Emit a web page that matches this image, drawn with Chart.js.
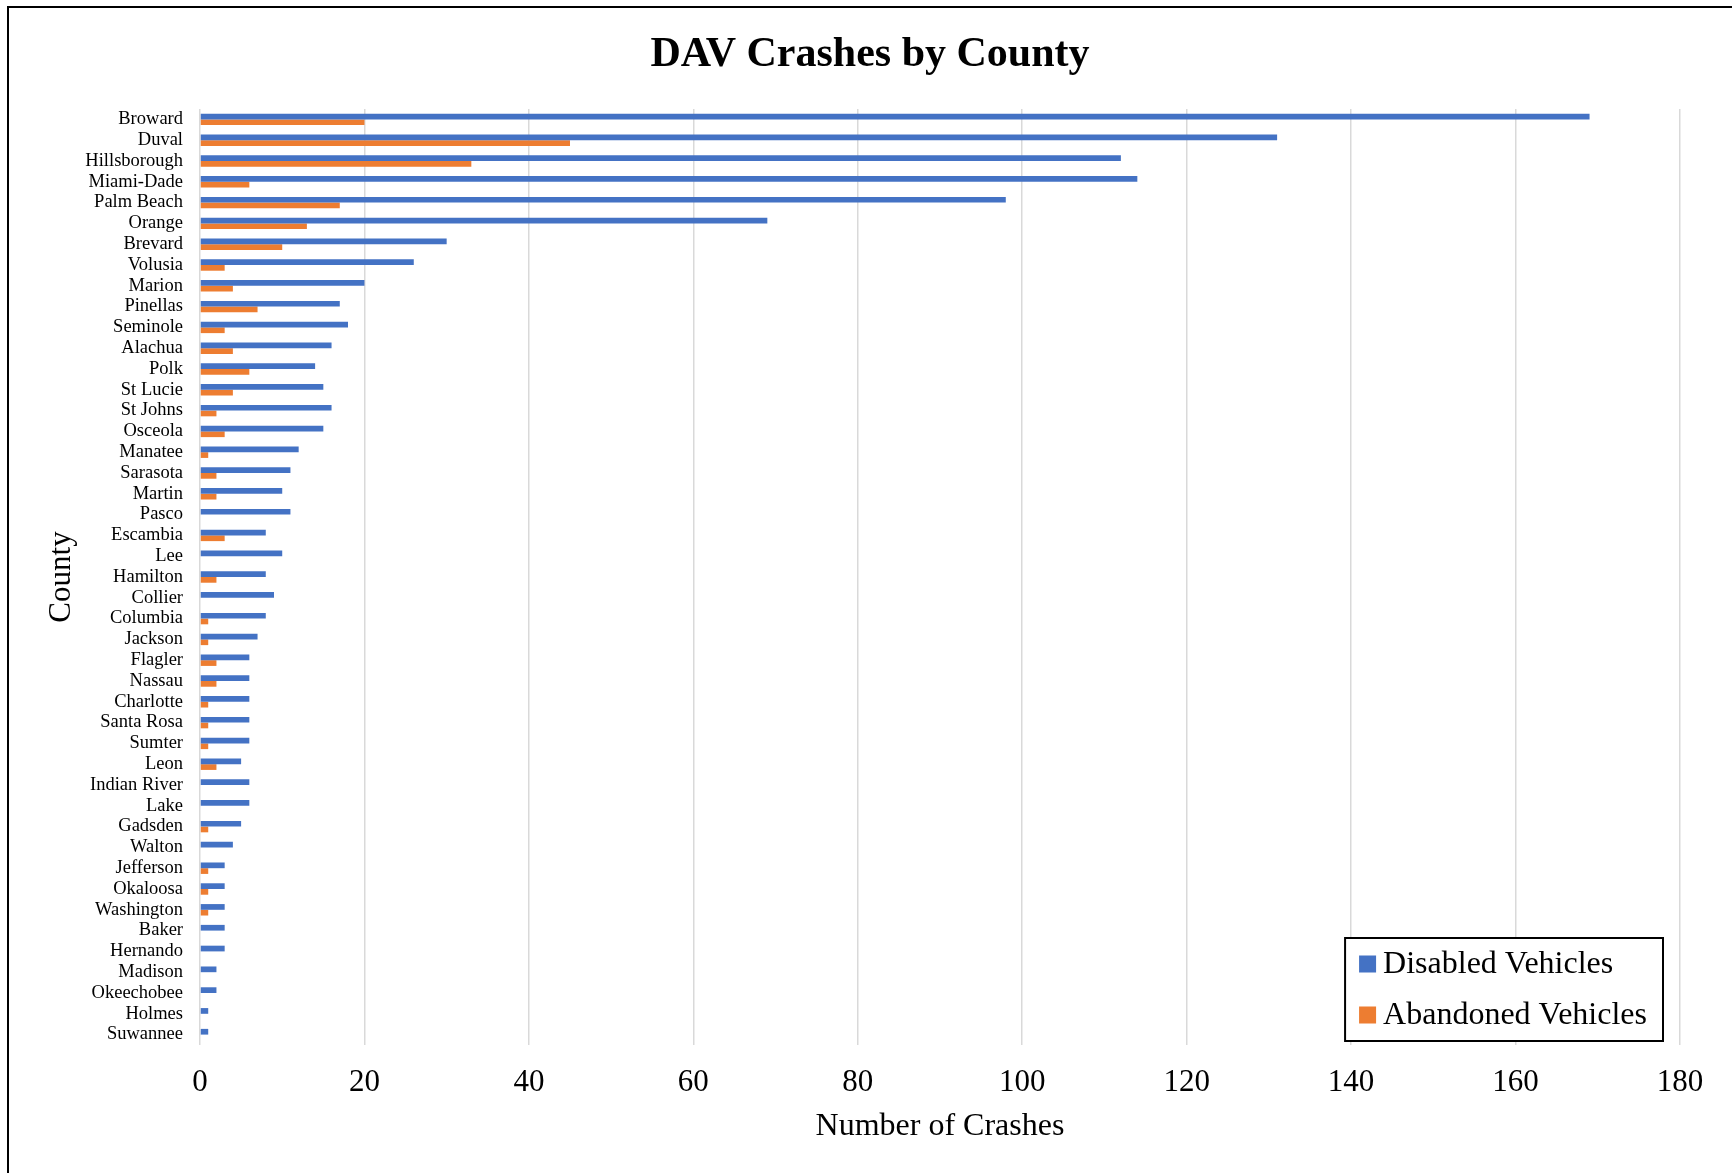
<!DOCTYPE html>
<html>
<head>
<meta charset="utf-8">
<title>DAV Crashes by County</title>
<script src="https://cdn.jsdelivr.net/npm/chart.js@4/dist/chart.umd.min.js"></script>
<style>
  html, body { margin: 0; padding: 0; background: #fff; overflow: hidden; }
  #marco {
    position: absolute; left: 7px; top: 6px;
    width: 2000px; height: 2000px;
    border-left: 2px solid #000; border-top: 2px solid #000;
  }
  #grafico { position: absolute; left: 0; top: 0; }
</style>
</head>
<body>
<div id="marco"></div>
<canvas id="grafico" width="1732" height="1173"></canvas>
<script>
// Condados (de mayor a menor numero de choques)
const condados = ['Broward', 'Duval', 'Hillsborough', 'Miami-Dade', 'Palm Beach', 'Orange', 'Brevard',
    'Volusia', 'Marion', 'Pinellas', 'Seminole', 'Alachua', 'Polk', 'St Lucie', 'St Johns', 'Osceola',
    'Manatee', 'Sarasota', 'Martin', 'Pasco', 'Escambia', 'Lee', 'Hamilton', 'Collier', 'Columbia',
    'Jackson', 'Flagler', 'Nassau', 'Charlotte', 'Santa Rosa', 'Sumter', 'Leon', 'Indian River', 'Lake',
    'Gadsden', 'Walton', 'Jefferson', 'Okaloosa', 'Washington', 'Baker', 'Hernando', 'Madison',
    'Okeechobee', 'Holmes', 'Suwannee'];

const disabledVehicles = [169, 131, 112, 114, 98, 69, 30, 26, 20, 17, 18, 16, 14, 15, 16, 15,
    12, 11, 10, 11, 8, 10, 8, 9, 8, 7, 6, 6, 6, 6, 6, 5, 6, 6, 5, 4, 3, 3, 3, 3, 3, 2, 2, 1, 1];

const abandonedVehicles = [20, 45, 33, 6, 17, 13, 10, 3, 4, 7, 3, 4, 6, 4, 2, 3,
    1, 2, 2, 0, 3, 0, 2, 0, 1, 1, 2, 2, 1, 1, 1, 2, 0, 0, 1, 0, 1, 1, 1, 0, 0, 0, 0, 0, 0];

const ticksX = [0, 20, 40, 60, 80, 100, 120, 140, 160, 180];

const FUENTE = "'Liberation Serif', 'Times New Roman', serif";

// Titulo centrado sobre el marco
const tituloPlugin = {
    id: 'tituloPlugin',
    afterDraw(chart) {
        const ctx = chart.ctx;
        ctx.save();
        ctx.font = "bold 42px " + FUENTE;
        ctx.fillStyle = '#000';
        ctx.textAlign = 'center';
        ctx.textBaseline = 'middle';
        ctx.fillText('DAV Crashes by County', 870, 55);
        ctx.restore();
    }
};

// Leyenda con recuadro dentro del area del grafico (abajo a la derecha)
const leyendaPlugin = {
    id: 'leyendaPlugin',
    afterDraw(chart) {
        const ctx = chart.ctx;
        const area = chart.chartArea;
        const sets = chart.data.datasets;
        ctx.save();
        ctx.font = "32px " + FUENTE;
        let anchoTexto = 0;
        sets.forEach(ds => { anchoTexto = Math.max(anchoTexto, ctx.measureText(ds.label).width); });

        const ancho = 14 + 17 + 7 + anchoTexto + 16;
        const alto = 103;
        const x = area.right - 17 - ancho;
        const y = area.bottom - 4 - alto;

        ctx.fillStyle = '#fff';
        ctx.fillRect(x, y, ancho, alto);
        ctx.strokeStyle = '#000';
        ctx.lineWidth = 2;
        ctx.strokeRect(x, y, ancho, alto);

        ctx.textBaseline = 'middle';
        ctx.textAlign = 'left';
        sets.forEach((ds, i) => {
            const cy = y + 26 + i * 51;
            ctx.fillStyle = ds.backgroundColor;
            ctx.fillRect(x + 14, cy - 8.5, 17, 17);
            ctx.fillStyle = '#000';
            ctx.fillText(ds.label, x + 14 + 17 + 7, cy + 1);
        });
        ctx.restore();
    }
};

new Chart(document.getElementById('grafico'), {
    type: 'bar',
    data: {
        labels: condados,
        datasets: [
            {
                label: 'Disabled Vehicles',
                data: disabledVehicles,
                backgroundColor: '#4472C4',
                categoryPercentage: 0.55,
                barPercentage: 1.0
            },
            {
                label: 'Abandoned Vehicles',
                data: abandonedVehicles,
                backgroundColor: '#ED7D31',
                categoryPercentage: 0.55,
                barPercentage: 1.0
            }
        ]
    },
    options: {
        indexAxis: 'y',
        responsive: false,
        animation: false,
        devicePixelRatio: 1,
        layout: { padding: { top: 109, right: 52, left: 0, bottom: 0 } },
        plugins: {
            legend: { display: false },
            title: { display: false },
            tooltip: { enabled: false }
        },
        scales: {
            x: {
                min: ticksX[0],
                max: ticksX[ticksX.length - 1],
                afterBuildTicks: (scale) => { scale.ticks = ticksX.map(v => ({ value: v })); },
                afterFit: (scale) => { scale.height = 128; },
                grid: { color: '#d9d9d9', lineWidth: 1.5, drawTicks: false },
                border: { display: false },
                ticks: {
                    font: { family: FUENTE, size: 31 },
                    color: '#000',
                    padding: 19
                },
                title: {
                    display: true,
                    text: 'Number of Crashes',
                    font: { family: FUENTE, size: 32 },
                    color: '#000',
                    padding: { top: 0, bottom: 27 }
                }
            },
            y: {
                afterFit: (scale) => { scale.width = 200; },
                grid: { display: false, drawTicks: false },
                border: { display: false },
                ticks: {
                    autoSkip: false,
                    font: { family: FUENTE, size: 18.5 },
                    color: '#000',
                    padding: 17
                },
                title: {
                    display: true,
                    text: 'County',
                    font: { family: FUENTE, size: 31 },
                    color: '#000',
                    padding: { top: 43, bottom: 0 }
                }
            }
        }
    },
    plugins: [tituloPlugin, leyendaPlugin]
});
</script>
</body>
</html>
